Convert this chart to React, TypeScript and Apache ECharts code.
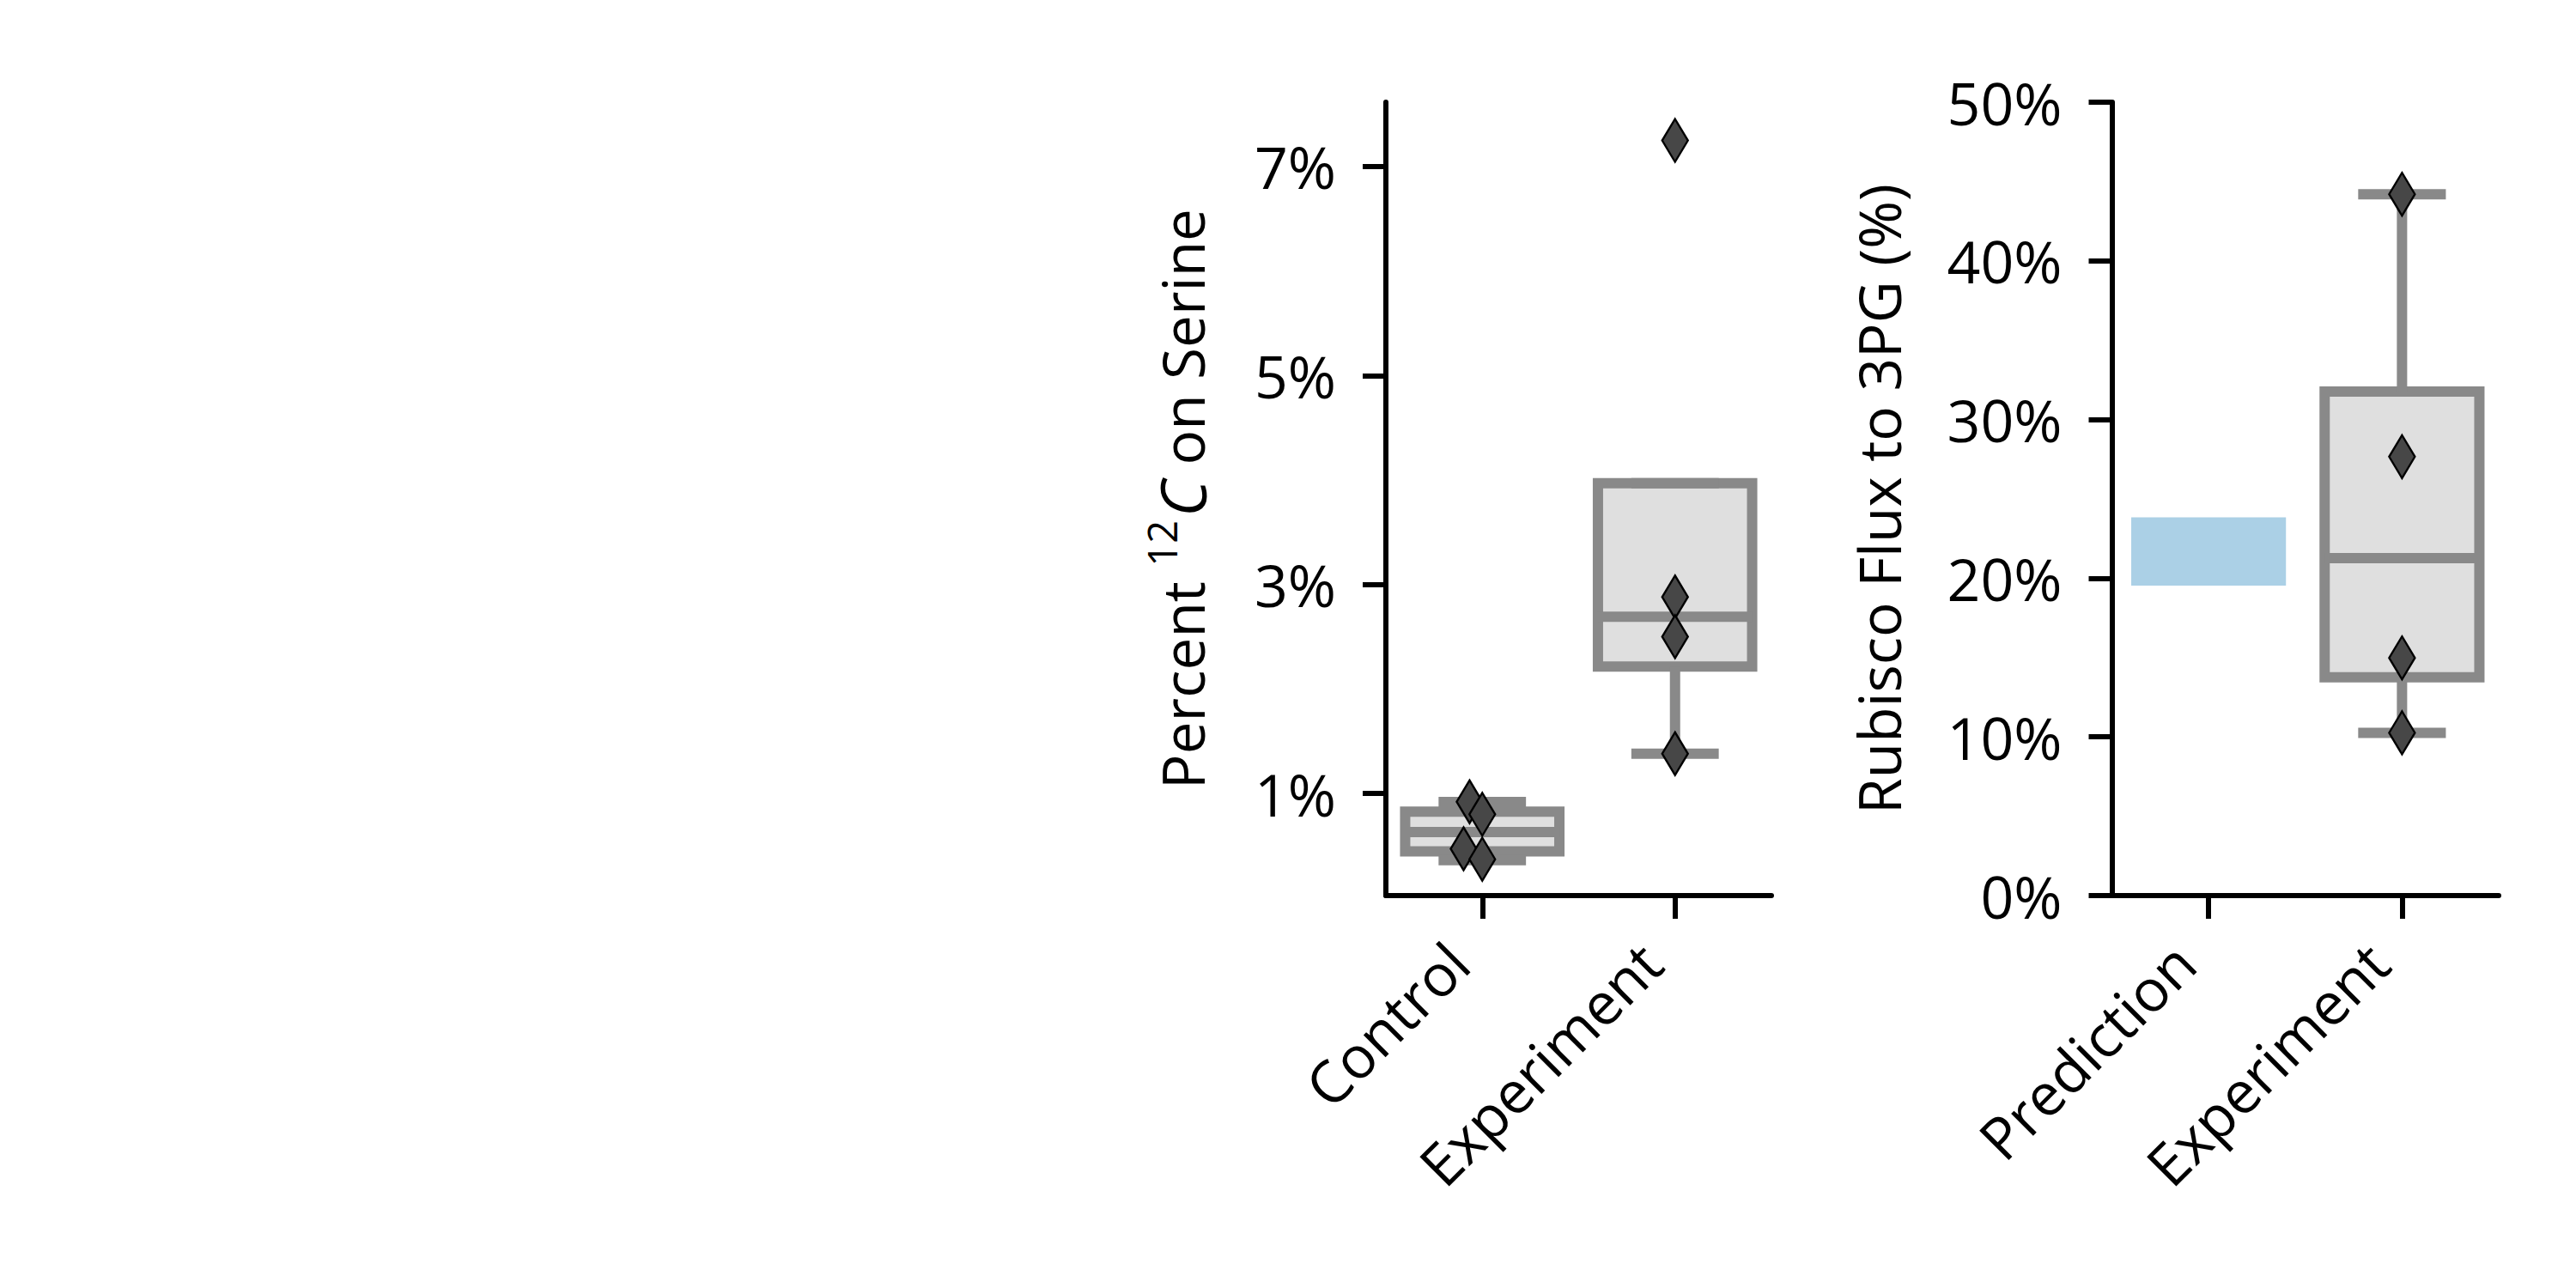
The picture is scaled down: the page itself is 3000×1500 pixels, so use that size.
import React, { useEffect, useRef } from "react";
import * as echarts from "echarts";

// ---- data ----
const leftCategories = ["Control", "Experiment"];
const rightCategories = ["Prediction", "Experiment"];

// box statistics: [lower whisker, Q1, median, Q3, upper whisker]
const controlBox = [0.36, 0.445, 0.63, 0.825, 0.918];
const serineExperimentBox = [1.38, 2.215, 2.69, 3.97, 3.97];
const rubiscoExperimentBox = [10.25, 13.76, 21.27, 31.76, 44.2];
const predictionRange = [19.53, 23.84];

// individual points (with horizontal jitter in category units)
const controlPoints = [0.92, 0.8, 0.47, 0.37];
const controlJitter = [-0.066, 0.0, -0.097, 0.0];
const serineExperimentPoints = [7.25, 2.88, 2.5, 1.38];
const serineExperimentJitter = [0, 0, 0, 0];
const rubiscoExperimentPoints = [44.2, 27.66, 14.98, 10.26];
const rubiscoExperimentJitter = [0, 0, 0, 0];

const leftTicks = [1, 3, 5, 7];
const rightTicks = [0, 10, 20, 30, 40, 50];

// ---- styles ----
const FONT = "Open Sans";
const EDGE = "#898989";
const FILL = "#dfdfdf";
const LW = 12;
const PRED_COLOR = "#abd0e6";

const renderBox = (params: any, api: any) => {
  const x = api.value(0);
  const lo = api.value(1);
  const q1 = api.value(2);
  const med = api.value(3);
  const q3 = api.value(4);
  const hi = api.value(5);
  const cx = api.coord([x, lo])[0];
  const yLo = api.coord([x, lo])[1];
  const yQ1 = api.coord([x, q1])[1];
  const yMed = api.coord([x, med])[1];
  const yQ3 = api.coord([x, q3])[1];
  const yHi = api.coord([x, hi])[1];
  const bw = api.size([0.8, 0])[0];
  const cw = bw / 2;
  const line = { stroke: EDGE, lineWidth: LW, fill: null };
  return {
    type: "group",
    children: [
      {
        type: "rect",
        shape: { x: cx - bw / 2, y: yQ3, width: bw, height: yQ1 - yQ3 },
        style: { fill: FILL, stroke: EDGE, lineWidth: LW },
      },
      { type: "line", shape: { x1: cx, y1: yQ1, x2: cx, y2: yLo }, style: { ...line, lineCap: "butt" } },
      { type: "line", shape: { x1: cx, y1: yQ3, x2: cx, y2: yHi }, style: { ...line, lineCap: "butt" } },
      { type: "line", shape: { x1: cx - cw / 2, y1: yLo, x2: cx + cw / 2, y2: yLo }, style: { ...line, lineCap: "square" } },
      { type: "line", shape: { x1: cx - cw / 2, y1: yHi, x2: cx + cw / 2, y2: yHi }, style: { ...line, lineCap: "square" } },
      { type: "line", shape: { x1: cx - bw / 2, y1: yMed, x2: cx + bw / 2, y2: yMed }, style: { ...line, lineCap: "butt" } },
    ],
  };
};

const renderRange = (params: any, api: any) => {
  const x = api.value(0);
  const lo = api.coord([x, api.value(1)]);
  const hi = api.coord([x, api.value(2)]);
  const bw = api.size([0.8, 0])[0];
  return {
    type: "rect",
    shape: { x: lo[0] - bw / 2, y: hi[1], width: bw, height: lo[1] - hi[1] },
    style: { fill: PRED_COLOR },
  };
};

const pts = (vals: number[], jit: number[], cat: number) =>
  vals.map((v, i) => [cat + jit[i], v]);

const axisLineStyle = { show: true, onZero: false, lineStyle: { color: "#000", width: 6 } };
const tickStyle = { length: 27, lineStyle: { color: "#000", width: 6 } };
const labelBase = { color: "#000", fontFamily: FONT, fontSize: 68 };

const xAxisFor = (gridIndex: number, cats: string[]) => ({
  type: "value",
  gridIndex,
  min: -0.5,
  max: 1.5,
  splitLine: { show: false },
  axisLine: axisLineStyle,
  axisTick: { show: true, ...tickStyle, customValues: [0, 1] },
  axisLabel: {
    ...labelBase,
    customValues: [0, 1],
    rotate: 45,
    margin: 38,
    padding: [0, 40, 0, 0],
    formatter: (v: number) => cats[Math.round(v)],
  },
});

export default function App() {
  const ref = useRef<HTMLDivElement>(null);
  useEffect(() => {
    document.body.style.margin = "0";
    const chart = echarts.init(ref.current!, null, { renderer: "svg" });
    const option: any = {
      animation: false,
      backgroundColor: "#ffffff",
      grid: [
        { left: 1614, top: 119, width: 449, height: 924, outerBoundsMode: "none" },
        { left: 2459.5, top: 119, width: 450.5, height: 924, outerBoundsMode: "none" },
      ],
      xAxis: [xAxisFor(0, leftCategories), xAxisFor(1, rightCategories)],
      yAxis: [
        {
          type: "value",
          gridIndex: 0,
          min: 0.022,
          max: 7.616,
          splitLine: { show: false },
          axisLine: axisLineStyle,
          axisTick: { show: true, ...tickStyle, customValues: leftTicks },
          axisLabel: { ...labelBase, margin: 58, customValues: leftTicks, formatter: (v: number) => `${v}%` },
          name: "{a|Percent }{s|12}{c|C}{a| on Serine}",
          nameLocation: "middle",
          nameGap: 190,
          nameTextStyle: {
            color: "#000",
            fontFamily: FONT,
            fontSize: 67.5,
            rich: {
              a: { fontFamily: FONT, fontSize: 67.5, color: "#000" },
              s: { fontFamily: FONT, fontSize: 47, color: "#000", padding: [0, 4, 48, 0] },
              c: { fontFamily: FONT, fontSize: 73, color: "#000", fontStyle: "italic" },
            },
          },
        },
        {
          type: "value",
          gridIndex: 1,
          min: 0,
          max: 50,
          interval: 10,
          splitLine: { show: false },
          axisLine: axisLineStyle,
          axisTick: { show: true, ...tickStyle, customValues: rightTicks },
          axisLabel: { ...labelBase, margin: 58, customValues: rightTicks, formatter: (v: number) => `${v}%` },
          name: "Rubisco Flux to 3PG (%)",
          nameLocation: "middle",
          nameGap: 238,
          nameTextStyle: { color: "#000", fontFamily: FONT, fontSize: 67.5 },
        },
      ],
      series: [
        {
          type: "custom",
          xAxisIndex: 0,
          yAxisIndex: 0,
          renderItem: renderBox,
          encode: { x: 0, y: [1, 2, 3, 4, 5] },
          clip: false,
          z: 2,
          data: [
            [0, ...controlBox],
            [1, ...serineExperimentBox],
          ],
        },
        {
          type: "custom",
          xAxisIndex: 1,
          yAxisIndex: 1,
          renderItem: renderRange,
          encode: { x: 0, y: [1, 2] },
          clip: false,
          z: 2,
          data: [[0, ...predictionRange]],
        },
        {
          type: "custom",
          xAxisIndex: 1,
          yAxisIndex: 1,
          renderItem: renderBox,
          encode: { x: 0, y: [1, 2, 3, 4, 5] },
          clip: false,
          z: 2,
          data: [[1, ...rubiscoExperimentBox]],
        },
        {
          type: "scatter",
          xAxisIndex: 0,
          yAxisIndex: 0,
          symbol: "diamond",
          symbolSize: [30, 50],
          z: 5,
          itemStyle: { color: "#474747", borderColor: "#000", borderWidth: 2.5, opacity: 1 },
          data: [...pts(controlPoints, controlJitter, 0), ...pts(serineExperimentPoints, serineExperimentJitter, 1)],
        },
        {
          type: "scatter",
          xAxisIndex: 1,
          yAxisIndex: 1,
          symbol: "diamond",
          symbolSize: [30, 50],
          z: 5,
          itemStyle: { color: "#474747", borderColor: "#000", borderWidth: 2.5, opacity: 1 },
          data: pts(rubiscoExperimentPoints, rubiscoExperimentJitter, 1),
        },
      ],
    };
    chart.setOption(option);
    return () => chart.dispose();
  }, []);
  return (
    <div
      ref={ref}
      style={{ position: "absolute", left: 0, top: 0, width: 3000, height: 1500 }}
    />
  );
}
